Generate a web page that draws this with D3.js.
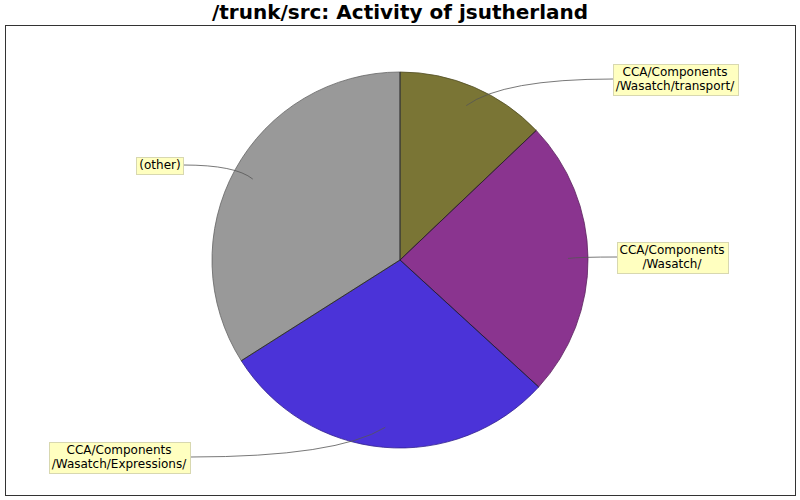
<!DOCTYPE html>
<html>
<head>
<meta charset="utf-8">
<script src="https://cdn.jsdelivr.net/npm/d3@7"></script>
<style>
  html, body { margin: 0; padding: 0; background: #fff; }
</style>
</head>
<body>
<div id="chart"></div>
<script>
// slices, clockwise from 12 o'clock
const names = [
  'CCA/Components\n/Wasatch/transport/',
  'CCA/Components\n/Wasatch/',
  'CCA/Components\n/Wasatch/Expressions/',
  '(other)',
];
const values = [12.9, 23.9, 29.2, 34.0];
const colors = ['#7a7535', '#8a348f', '#4b33d8', '#999999'];

// where each callout box sits (box centre) - layout only
const labelPos = [[675, 79], [672, 257], [119, 457], [160, 165]];

const W = 800, H = 500;
const cx = 400, cy = 260, R = 188;

const svg = d3.select('#chart').append('svg')
  .attr('width', W).attr('height', H)
  .style('display', 'block');

svg.append('text')
  .attr('x', W / 2).attr('y', 19)
  .attr('text-anchor', 'middle')
  .attr('font-family', 'DejaVu Sans')
  .attr('font-weight', 'bold').attr('font-size', 20)
  .text('/trunk/src: Activity of jsutherland');

svg.append('rect')
  .attr('x', 5.5).attr('y', 25.5).attr('width', 790).attr('height', 470)
  .attr('fill', 'none').attr('stroke', '#333');

const pie = d3.pie().sort(null).value(d => d);
const arcs = pie(values);
const arc = d3.arc().innerRadius(0).outerRadius(R);

const g = svg.append('g').attr('transform', `translate(${cx},${cy})`);

g.selectAll('path.slice').data(arcs).enter().append('path')
  .attr('class', 'slice')
  .attr('d', arc)
  .attr('fill', (d, i) => colors[i])
  .attr('stroke', (d, i) => d3.color(colors[i]).darker(1.2))
  .attr('stroke-width', 0.8);

// radial edges drawn dark on top
g.selectAll('line.edge').data(arcs).enter().append('line')
  .attr('x1', 0).attr('y1', 0)
  .attr('x2', d => R * Math.sin(d.startAngle))
  .attr('y2', d => -R * Math.cos(d.startAngle))
  .attr('stroke', '#222').attr('stroke-width', 0.8);

// callouts
const anchorR = 168;
const labels = svg.append('g');

arcs.forEach((d, i) => {
  const mid = (d.startAngle + d.endAngle) / 2;
  const ax = cx + anchorR * Math.sin(mid);
  const ay = cy - anchorR * Math.cos(mid);
  const lines = names[i].split('\n');
  const lg = labels.append('g');

  const tg = lg.append('text')
    .attr('font-family', 'DejaVu Sans').attr('font-size', 12)
    .attr('text-anchor', 'middle').attr('fill', '#000');
  const [lx, ly] = labelPos[i];
  const lh = 14;
  const top = ly - lines.length * lh / 2;
  lines.forEach((t, k) => {
    tg.append('tspan').attr('x', lx).attr('y', top + k * lh + 11).text(t);
  });
  const bb = tg.node().getBBox();
  const bx = Math.round(bb.x - 3) + 0.5, bw = Math.round(bb.width + 6);
  const by = Math.round(top - 1) + 0.5, bh = Math.round(lines.length * lh + 3);

  const ex = lx > ax ? bx : bx + bw;
  const ey = ly;
  const p = d3.path();
  p.moveTo(ax, ay);
  p.quadraticCurveTo(ax + 0.25 * (ex - ax), ey, ex, ey);
  labels.insert('path', ':first-child')
    .attr('d', p.toString())
    .attr('fill', 'none').attr('stroke', '#555').attr('stroke-width', 0.8);

  lg.insert('rect', 'text')
    .attr('x', bx).attr('y', by).attr('width', bw).attr('height', bh)
    .attr('fill', '#ffffc0').attr('stroke', '#d8d8b0');
});
</script>
</body>
</html>
